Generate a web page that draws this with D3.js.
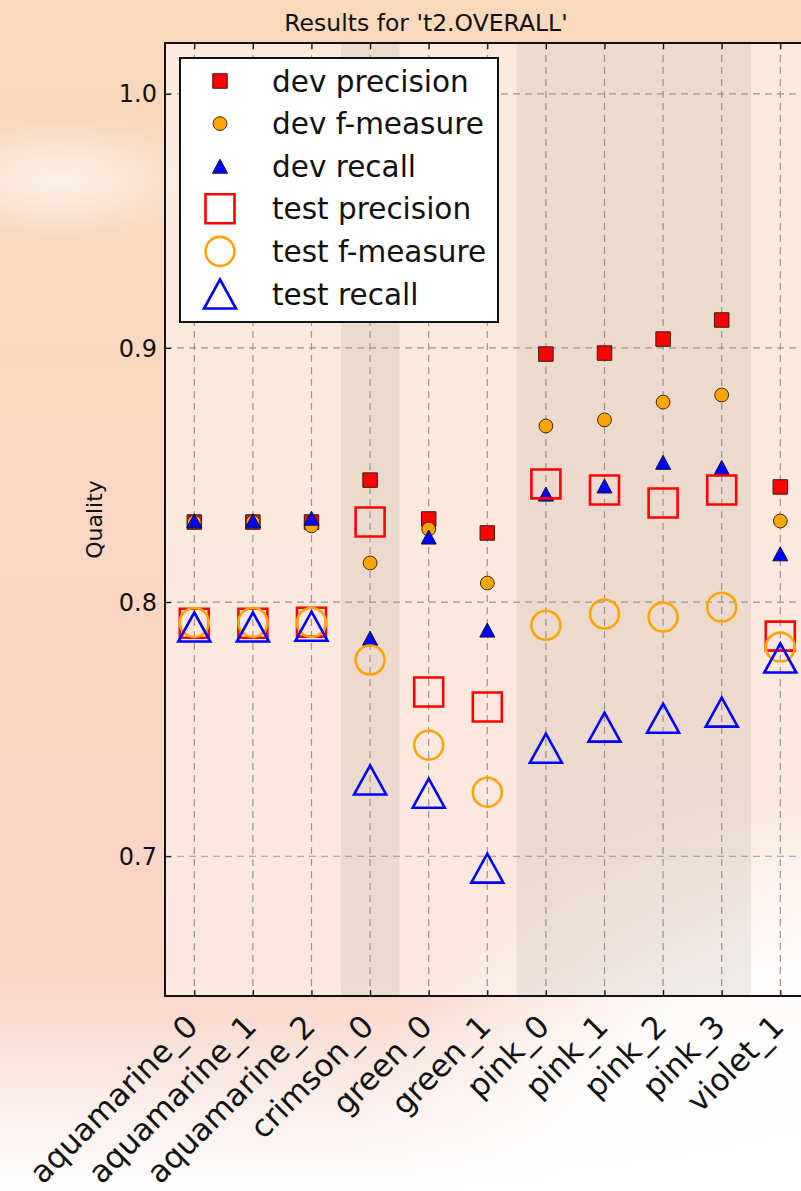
<!DOCTYPE html>
<html lang="en">
  <head>
    <meta charset="UTF-8">
    <title>Results for 't2.OVERALL'</title>
    <style>
      body { margin: 0; background: #fff; }
      svg { display: block; font-family: "DejaVu Sans", sans-serif; }
      .grid line { stroke: #9a9490; stroke-width: 1.2; stroke-dasharray: 7,5; }
      .tick-label { font-size: 24px; fill: #111; }
      .x-label { font-size: 31px; fill: #111; }
      .legend text { font-size: 29.5px; fill: #111; }
    </style>
    <script src="https://d3js.org/d3.v7.min.js"></script>
  </head>
  <body>
    <script>
      const width = 801;
      const height = 1191;
      const plot = { left: 165, top: 43, bottom: 996, step: 58.6 };

      const categories = ["aquamarine_0", "aquamarine_1", "aquamarine_2", "crimson_0", "green_0",
        "green_1", "pink_0", "pink_1", "pink_2", "pink_3", "violet_1"];
      const shadedGroups = ["crimson", "pink"];

      const devPrecision  = [0.8315, 0.8315, 0.8315, 0.848, 0.8327, 0.8272, 0.8976, 0.898, 0.9035, 0.911, 0.8453];
      const devFMeasure   = [0.8315, 0.8315, 0.830, 0.8154, 0.8287, 0.8075, 0.8693, 0.8717, 0.8787, 0.8815, 0.8319];
      const devRecall     = [0.832, 0.832, 0.833, 0.7858, 0.8256, 0.789, 0.8425, 0.8457, 0.855, 0.853, 0.819];
      const testPrecision = [0.7917, 0.7917, 0.7921, 0.8315, 0.7646, 0.7587, 0.8465, 0.8441, 0.839, 0.8441, 0.7866];
      const testFMeasure  = [0.792, 0.792, 0.792, 0.7772, 0.7437, 0.7252, 0.7909, 0.7953, 0.7941, 0.798, 0.7823];
      const testRecall    = [0.7902, 0.7902, 0.7905, 0.730, 0.7248, 0.6953, 0.7425, 0.7508, 0.7543, 0.7567, 0.778];
      const yTicks = [0.7, 0.8, 0.9, 1.0];

      const svg = d3.select("body").append("svg")
        .attr("width", width)
        .attr("height", height);

      // background photo look
      const defs = svg.append("defs");
      const bg = defs.append("linearGradient").attr("id", "bg")
        .attr("x1", 0).attr("y1", 0).attr("x2", 0).attr("y2", 1);
      bg.append("stop").attr("offset", "0%").attr("stop-color", "#f8d9bc");
      bg.append("stop").attr("offset", "45%").attr("stop-color", "#f9d7c3");
      bg.append("stop").attr("offset", "82%").attr("stop-color", "#f9d4c5");
      bg.append("stop").attr("offset", "93%").attr("stop-color", "#fbefec");
      bg.append("stop").attr("offset", "100%").attr("stop-color", "#ffffff");

      const glow = defs.append("radialGradient").attr("id", "glow")
        .attr("cx", 0.5).attr("cy", 0.5).attr("r", 0.5);
      glow.append("stop").attr("offset", "0%").attr("stop-color", "#ffffff").attr("stop-opacity", 1);
      glow.append("stop").attr("offset", "60%").attr("stop-color", "#ffffff").attr("stop-opacity", 0.9);
      glow.append("stop").attr("offset", "100%").attr("stop-color", "#ffffff").attr("stop-opacity", 0);

      const foam = defs.append("radialGradient").attr("id", "foam")
        .attr("cx", 0.5).attr("cy", 0.5).attr("r", 0.5);
      foam.append("stop").attr("offset", "0%").attr("stop-color", "#fdf4ee").attr("stop-opacity", 0.9);
      foam.append("stop").attr("offset", "100%").attr("stop-color", "#fdf4ee").attr("stop-opacity", 0);

      svg.append("rect").attr("width", width).attr("height", height).attr("fill", "url(#bg)");
      svg.append("ellipse").attr("cx", 60).attr("cy", 180).attr("rx", 150).attr("ry", 60)
        .attr("fill", "url(#foam)");
      svg.append("ellipse").attr("cx", 900).attr("cy", 1200).attr("rx", 560).attr("ry", 420)
        .attr("fill", "url(#glow)");

      const x = d3.scaleLinear()
        .domain([-0.5, categories.length + 0.5])
        .range([plot.left, plot.left + (categories.length + 1) * plot.step]);

      const y = d3.scaleLinear()
        .domain([0.645, 1.02])
        .range([plot.bottom, plot.top]);

      const [x0, x1] = x.range();

      // axes face
      svg.append("rect")
        .attr("x", x0).attr("y", plot.top)
        .attr("width", x1 - x0).attr("height", plot.bottom - plot.top)
        .attr("fill", "#ffffff").attr("fill-opacity", 0.45);

      // shaded category groups
      svg.append("g").selectAll("rect")
        .data(categories.map((c, i) => ({ c, i })).filter(d => shadedGroups.includes(d.c.split("_")[0])))
        .join("rect")
        .attr("x", d => x(d.i - 0.5))
        .attr("y", plot.top)
        .attr("width", d => x(d.i + 0.5) - x(d.i - 0.5))
        .attr("height", plot.bottom - plot.top)
        .attr("fill", "#8a7a70")
        .attr("fill-opacity", 0.13);

      // grid
      const grid = svg.append("g").attr("class", "grid");
      grid.selectAll(".gx").data(categories).join("line")
        .attr("x1", (d, i) => x(i)).attr("x2", (d, i) => x(i))
        .attr("y1", plot.top).attr("y2", plot.bottom);
      grid.selectAll(".gy").data(yTicks).join("line")
        .attr("x1", x0).attr("x2", x1)
        .attr("y1", d => y(d)).attr("y2", d => y(d));

      // axes (inward ticks on all sides)
      svg.append("g")
        .attr("transform", `translate(0,${plot.bottom})`)
        .call(d3.axisBottom(x).tickValues(d3.range(categories.length)).tickSize(-6).tickFormat(""))
        .call(g => g.select(".domain").remove());
      svg.append("g")
        .attr("transform", `translate(0,${plot.top})`)
        .call(d3.axisTop(x).tickValues(d3.range(categories.length)).tickSize(-6).tickFormat(""))
        .call(g => g.select(".domain").remove());
      svg.append("g")
        .attr("transform", `translate(${plot.left},0)`)
        .call(d3.axisLeft(y).tickValues(yTicks).tickSize(-6).tickFormat(""))
        .call(g => g.select(".domain").remove());
      svg.selectAll(".tick line").attr("stroke", "#111").attr("stroke-width", 1.2);

      svg.append("rect")
        .attr("x", x0).attr("y", plot.top)
        .attr("width", x1 - x0).attr("height", plot.bottom - plot.top)
        .attr("fill", "none").attr("stroke", "#111").attr("stroke-width", 2);

      // tick labels
      svg.append("g").selectAll("text").data(yTicks).join("text")
        .attr("class", "tick-label")
        .attr("x", plot.left - 8)
        .attr("y", d => y(d))
        .attr("dy", "0.36em")
        .attr("text-anchor", "end")
        .text(d => d.toFixed(1));

      svg.append("g").selectAll("text").data(categories).join("text")
        .attr("class", "x-label")
        .attr("text-anchor", "end")
        .attr("transform", (d, i) => `translate(${x(i) - 10},${plot.bottom + 17}) rotate(-45)`)
        .attr("dy", "0.7em")
        .text(d => d);

      svg.append("text")
        .attr("x", 0).attr("y", 0)
        .attr("transform", `translate(102,${(plot.top + plot.bottom) / 2}) rotate(-90)`)
        .attr("text-anchor", "middle")
        .attr("font-size", 22)
        .attr("fill", "#111")
        .text("Quality");

      svg.append("text")
        .attr("x", 426).attr("y", 31)
        .attr("text-anchor", "middle")
        .attr("font-size", 23.5)
        .attr("fill", "#111")
        .text("Results for 't2.OVERALL'");

      // marker shapes
      const tri = (w, h) => `M0,${-h / 2}L${w / 2},${h / 2}L${-w / 2},${h / 2}Z`;
      const series = [
        { name: "dev precision", values: devPrecision, shape: d3.symbol(d3.symbolSquare, 210)(), fill: "#ff0000", stroke: "#3a1a1a", sw: 1 },
        { name: "dev f-measure", values: devFMeasure, shape: d3.symbol(d3.symbolCircle, 150)(), fill: "#ffa500", stroke: "#3a2a10", sw: 1 },
        { name: "dev recall", values: devRecall, shape: tri(15, 14), fill: "#0000ff", stroke: "#101040", sw: 1 },
        { name: "test precision", values: testPrecision, shape: d3.symbol(d3.symbolSquare, 840)(), fill: "none", stroke: "#ff0000", sw: 2.6 },
        { name: "test f-measure", values: testFMeasure, shape: d3.symbol(d3.symbolCircle, 660)(), fill: "none", stroke: "#ffa500", sw: 2.6 },
        { name: "test recall", values: testRecall, shape: tri(32, 29), fill: "none", stroke: "#0000ff", sw: 2.6 }
      ];

      series.forEach(s => {
        svg.append("g").selectAll("path").data(s.values).join("path")
          .attr("d", s.shape)
          .attr("transform", (d, i) => `translate(${x(i)},${y(d)})`)
          .attr("fill", s.fill)
          .attr("stroke", s.stroke)
          .attr("stroke-width", s.sw);
      });

      // legend
      const legend = svg.append("g").attr("class", "legend");
      legend.append("rect")
        .attr("x", 180).attr("y", 58)
        .attr("width", 318).attr("height", 264)
        .attr("fill", "#fff")
        .attr("stroke", "#111")
        .attr("stroke-width", 2);

      const rowY = d3.scalePoint().domain(series.map(s => s.name)).range([81, 294]);
      const rows = legend.selectAll(".row").data(series).join("g")
        .attr("transform", d => `translate(0,${rowY(d.name)})`);
      rows.append("path")
        .attr("d", d => d.shape)
        .attr("transform", "translate(220,0)")
        .attr("fill", d => d.fill)
        .attr("stroke", d => d.stroke)
        .attr("stroke-width", d => d.sw);
      rows.append("text")
        .attr("x", 272)
        .attr("dy", "0.36em")
        .text(d => d.name);
    </script>
  </body>
</html>
